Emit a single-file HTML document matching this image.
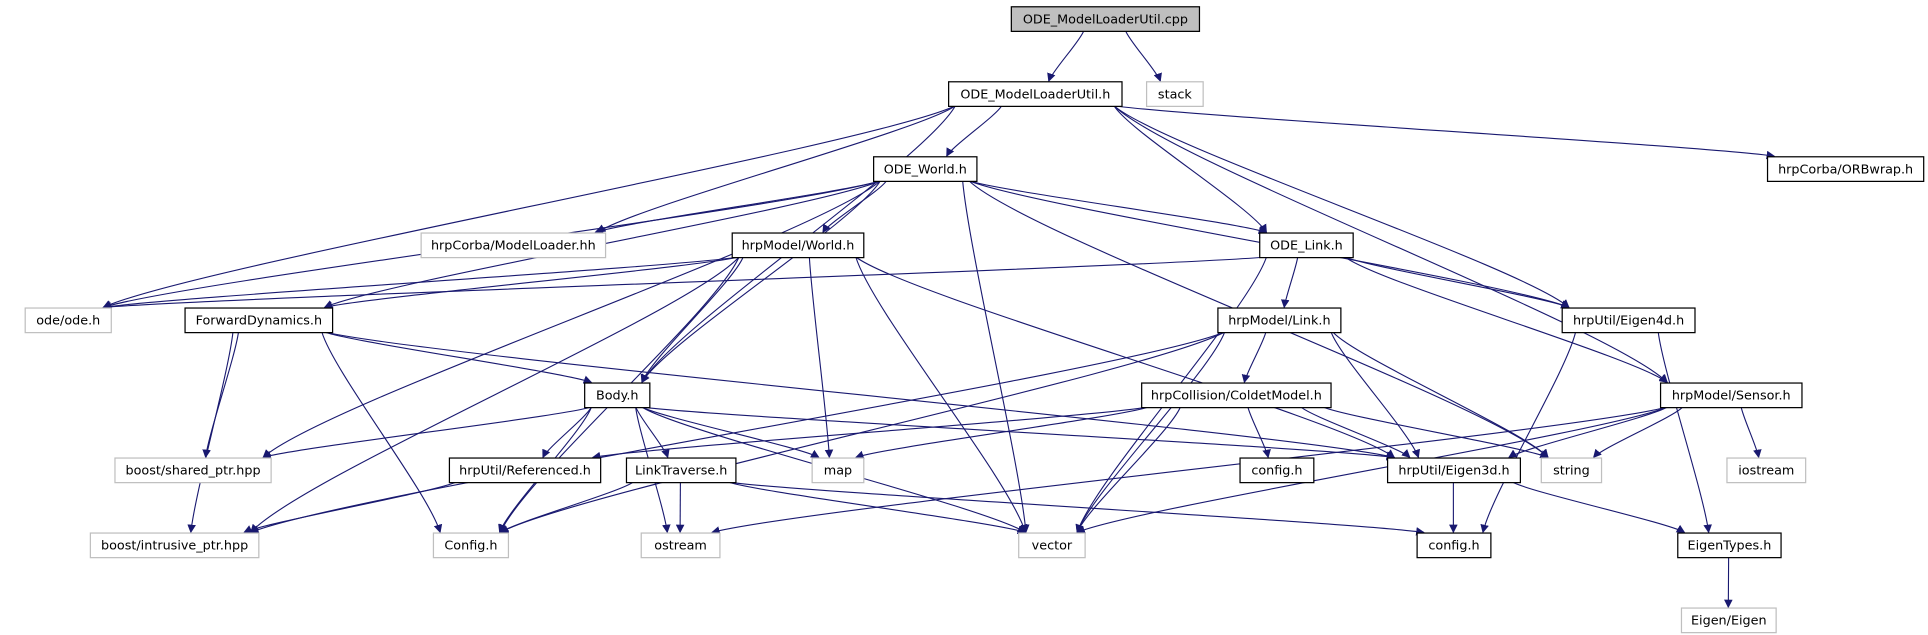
<!DOCTYPE html>
<html><head><meta charset="utf-8"><style>
html,body{margin:0;padding:0;background:#fff;overflow:hidden}
svg{display:block}
text{font-family:"DejaVu Sans","Liberation Sans",sans-serif;font-size:10.4px}
</style></head><body>
<svg id="s" width="1928" height="635" viewBox="0 0 1568 516.4" xmlns="http://www.w3.org/2000/svg">
<defs><marker id="a" viewBox="0 0 10 10" refX="9" refY="5" markerWidth="7" markerHeight="7" orient="auto-start-reverse" markerUnits="userSpaceOnUse"><path d="M0,0 L10,5 L0,10 z" fill="#191970"/></marker></defs>
<g id="e" fill="none" stroke="#191970" stroke-width="0.9"></g>
<g id="n"></g>
</svg>
<script>
var N={
cpp:[822,5,975,25,"ODE_ModelLoaderUtil.cpp",2],
stack:[932,66,978,86,"stack",1],
h:[771,66,912,86,"ODE_ModelLoaderUtil.h",0],
orb:[1437,127,1564,147,"hrpCorba/ORBwrap.h",0],
world:[710,127,794,147,"ODE_World.h",0],
ml:[342,189,492,209,"hrpCorba/ModelLoader.hh",1],
hw:[595,189,702,209,"hrpModel/World.h",0],
link:[1024,189,1100,209,"ODE_Link.h",0],
ode:[20,250,90,270,"ode/ode.h",1],
fd:[150,250,270,270,"ForwardDynamics.h",0],
hl:[990,250,1090,270,"hrpModel/Link.h",0],
e4:[1270,250,1378,270,"hrpUtil/Eigen4d.h",0],
body:[475,311,528,331,"Body.h",0],
cold:[928,311,1082,331,"hrpCollision/ColdetModel.h",0],
sen:[1350,311,1465,331,"hrpModel/Sensor.h",0],
sp:[93,372,220,392,"boost/shared_ptr.hpp",1],
ref:[365,372,488,392,"hrpUtil/Referenced.h",0],
lt:[509,372,598,392,"LinkTraverse.h",0],
map:[660,372,702,392,"map",1],
cfgm:[1008,372,1068,392,"config.h",0],
e3:[1128,372,1236,392,"hrpUtil/Eigen3d.h",0],
str:[1253,372,1302,392,"string",1],
ios:[1404,372,1468,392,"iostream",1],
ip:[73,433,210,453,"boost/intrusive_ptr.hpp",1],
Cfg:[352,433,413,453,"Config.h",1],
os:[521,433,585,453,"ostream",1],
vec:[828,433,882,453,"vector",1],
cfg:[1152,433,1212,453,"config.h",0],
et:[1364,433,1448,453,"EigenTypes.h",0],
eig:[1367,494,1444,514,"Eigen/Eigen",1]};
var E="cpp h,cpp stack,h orb,h world,h ml,h ode,h body,h link,h e4,h sen,world ml,world hw,world ode,world fd,world body,world vec,world link,world e4,world str,world sp,hw ode,hw fd,hw body,hw map,hw vec,hw Cfg,hw e3,hw ip,link ode,link hl,link e4,link sen,link vec,fd body,fd sp,fd ip,fd Cfg,fd e3,hl cold,hl e3,hl str,hl vec,hl Cfg,hl ip,e4 et,e4 cfg,body sp,body ref,body lt,body map,body e3,body vec,body Cfg,body os,cold ref,cold map,cold cfgm,cold e3,cold str,cold vec,sen e3,sen str,sen ios,sen vec,sen os,ref ip,lt Cfg,lt os,lt vec,lt cfg,e3 cfg,e3 et,et eig";
var ns="http://www.w3.org/2000/svg",eg=document.getElementById("e"),ng=document.getElementById("n");
E.split(",").forEach(function(p){var q=p.split(" "),a=N[q[0]],b=N[q[1]];
var ca=(a[0]+a[2])/2,cb=(b[0]+b[2])/2;
var x1=Math.max(a[0]+6,Math.min(a[2]-6,ca+(cb-ca)*0.3)),y1=a[3];
var x2=Math.max(b[0]+6,Math.min(b[2]-6,cb-(cb-ca)*0.2)),y2=b[1];
var dy=(y2-y1)*0.2,dx=(x2-x1)*0.1,path=document.createElementNS(ns,"path");
path.setAttribute("d","M"+x1+","+y1+" C"+(x1+dx)+","+(y1+dy)+" "+(x2-dx)+","+(y2-dy)+" "+x2+","+y2);
path.setAttribute("marker-end","url(#a)");eg.appendChild(path);});
for(var k in N){var v=N[k],r=document.createElementNS(ns,"rect");
r.setAttribute("x",v[0]+.5);r.setAttribute("y",v[1]+.5);r.setAttribute("width",v[2]-v[0]);r.setAttribute("height",v[3]-v[1]);
r.setAttribute("fill",v[5]==2?"#bfbfbf":"#fff");r.setAttribute("stroke",v[5]==1?"#bfbfbf":"#000");r.setAttribute("stroke-width","1");ng.appendChild(r);
var t=document.createElementNS(ns,"text");t.setAttribute("x",(v[0]+v[2])/2+.5);t.setAttribute("y",v[3]-6);t.setAttribute("text-anchor","middle");t.textContent=v[4];ng.appendChild(t);}
</script>
</body></html>
